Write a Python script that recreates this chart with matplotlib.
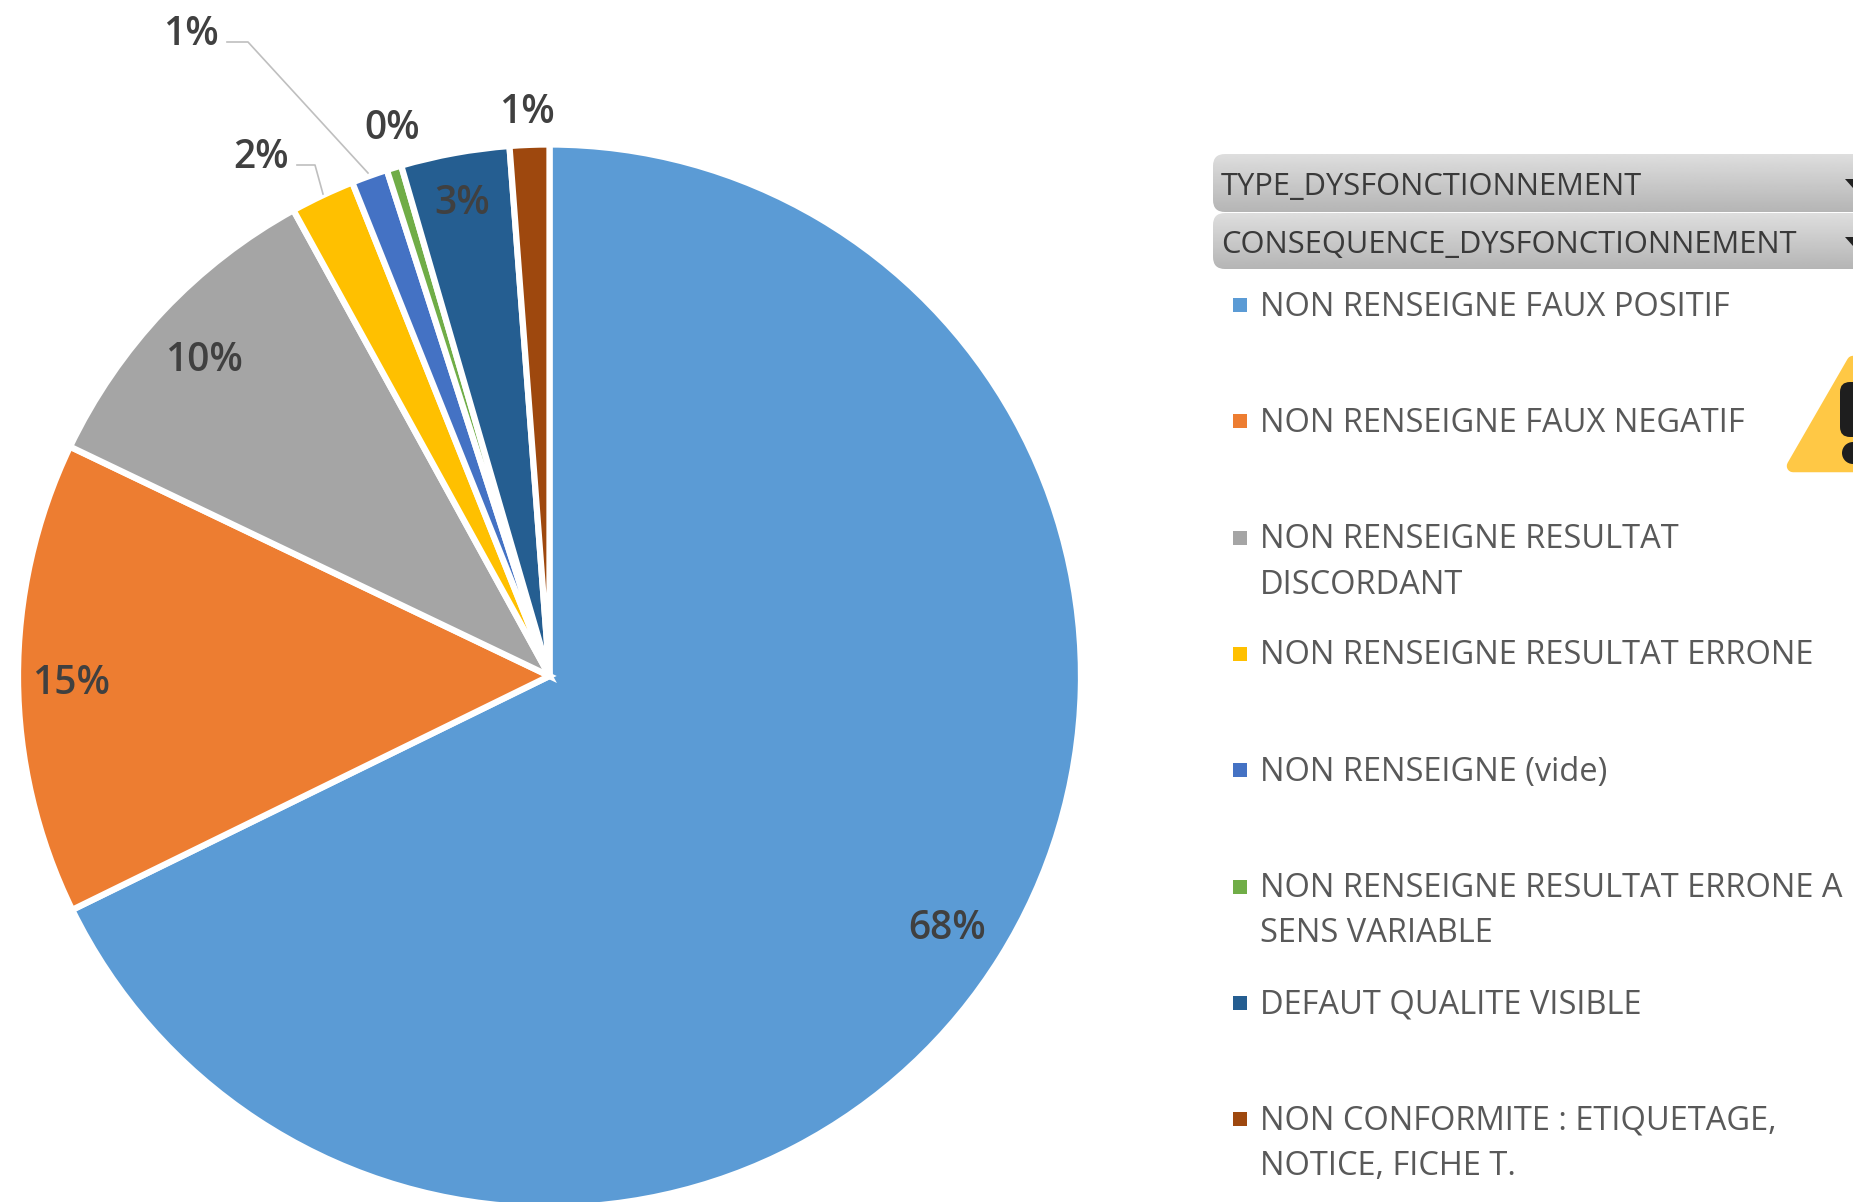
import matplotlib

matplotlib.use("Agg")
import matplotlib.pyplot as plt
import numpy as np
from matplotlib.patches import FancyBboxPatch, Polygon, Circle

WIDTH, HEIGHT = 1853, 1202

SHARES = [67.75, 14.35, 9.9, 1.95, 1.1, 0.45, 3.3, 1.2]
PCT_LABELS = ["68%", "15%", "10%", "2%", "1%", "0%", "3%", "1%"]
COLORS = ["#5B9BD5", "#ED7D31", "#A5A5A5", "#FFC000", "#4472C4", "#70AD47", "#255E91", "#9E480E"]
LEGEND_LABELS = [
    "NON RENSEIGNE FAUX POSITIF",
    "NON RENSEIGNE FAUX NEGATIF",
    "NON RENSEIGNE RESULTAT\nDISCORDANT",
    "NON RENSEIGNE RESULTAT ERRONE",
    "NON RENSEIGNE (vide)",
    "NON RENSEIGNE RESULTAT ERRONE A\nSENS VARIABLE",
    "DEFAUT QUALITE VISIBLE",
    "NON CONFORMITE : ETIQUETAGE,\nNOTICE, FICHE T.",
]
FILTERS = ["TYPE_DYSFONCTIONNEMENT", "CONSEQUENCE_DYSFONCTIONNEMENT"]

# label centres in pixels, from the top left corner
LABEL_POS = [(947, 929), (71, 684), (204, 361), (261, 158), (191, 35), (392, 129), (462, 204), (527, 113)]

plt.rcParams["font.family"] = ["Open Sans", "DejaVu Sans"]


def fy(y):
    return HEIGHT - y


fig = plt.figure(figsize=(WIDTH / 100, HEIGHT / 100), dpi=100)
ax = fig.add_axes([0, 0, 1, 1])

ax.pie(
    SHARES,
    colors=COLORS,
    startangle=90,
    counterclock=False,
    center=(549.5, fy(676)),
    radius=531.5,
    wedgeprops={"edgecolor": "white", "linewidth": 4.5},
)
ax.set_xlim(0, WIDTH)
ax.set_ylim(0, HEIGHT)

for text, (x, y) in zip(PCT_LABELS, LABEL_POS):
    ax.text(x, fy(y), text, ha="center", va="center", fontsize=28, fontweight="semibold", color="#404040")

# leader lines of the two small slices
ax.plot([227, 248, 368], [fy(42), fy(42), fy(173)], color="#BFBFBF", lw=1.2)
ax.plot([297, 315, 323], [fy(165), fy(165), fy(194)], color="#BFBFBF", lw=1.2)

# slicer buttons
gradient = np.linspace(0.87, 0.71, 64).reshape(-1, 1)
for name, top, bottom in zip(FILTERS, [154, 213], [212, 269]):
    box = FancyBboxPatch(
        (1219, fy(bottom) + 6),
        700,
        bottom - top - 12,
        boxstyle="round,pad=6,rounding_size=12",
        facecolor="none",
        edgecolor="none",
    )
    ax.add_patch(box)
    im = ax.imshow(
        gradient,
        extent=(1208, 1853, fy(bottom), fy(top)),
        cmap="gray",
        vmin=0,
        vmax=1,
        aspect="auto",
        zorder=1,
    )
    im.set_clip_path(box)
    mid = (top + bottom) / 2
    ax.text(1221, fy(mid + 4), name, ha="left", va="center", fontsize=22.2, color="#3A3A3A", zorder=3)
    ax.add_patch(Polygon([(1845, fy(mid - 4)), (1861, fy(mid - 4)), (1853, fy(mid + 5))], facecolor="#222222", zorder=3))

# legend rows
for i, (label, color) in enumerate(zip(LEGEND_LABELS, COLORS)):
    y = 307 + 116.3 * i
    ax.add_patch(plt.Rectangle((1233, fy(y + 5)), 14, 14, facecolor=color, edgecolor="none"))
    for j, line in enumerate(label.split("\n")):
        ax.text(1260, fy(y + 45.5 * j), line, ha="left", va="center", fontsize=23.5, color="#595959")

# warning sign on the right edge
ax.add_patch(Polygon(
    [(1853, fy(362)), (1793, fy(466)), (1913, fy(466))],
    closed=True, facecolor="#FFC845", edgecolor="#FFC845", linewidth=9, joinstyle="round", zorder=4,
))
ax.add_patch(FancyBboxPatch(
    (1840, fy(437)), 26, 55, boxstyle="round,pad=0,rounding_size=10", facecolor="#1E1E1E", edgecolor="none", zorder=5,
))
ax.add_patch(Circle((1853, fy(453)), 11, facecolor="#1E1E1E", edgecolor="none", zorder=5))

ax.set_xlim(0, WIDTH)
ax.set_ylim(0, HEIGHT)
ax.set_aspect("equal")
ax.axis("off")

fig.savefig("out.png", dpi=100)
